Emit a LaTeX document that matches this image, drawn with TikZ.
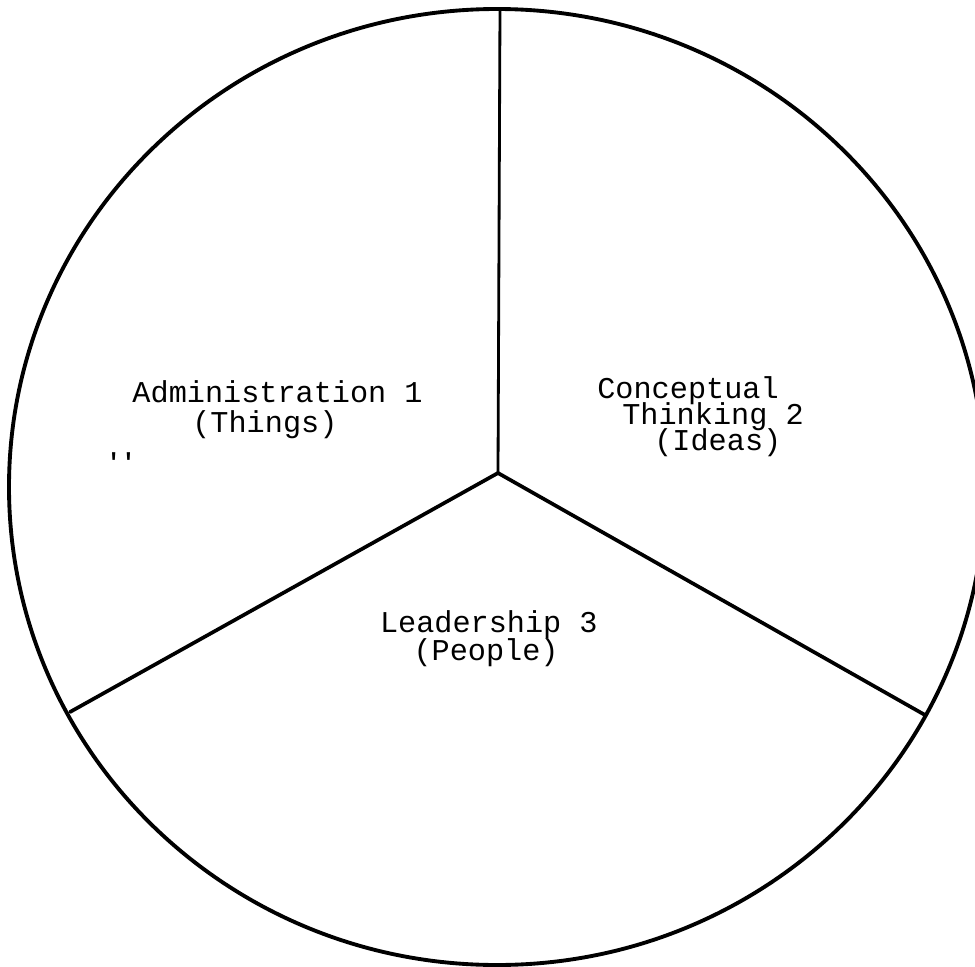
\documentclass[tikz,border=0pt]{standalone}
\usepackage{fontspec}
\setmonofont{Liberation Mono}

\begin{document}
\begin{tikzpicture}[x=0.02cm,y=-0.02cm,
    font=\ttfamily\fontsize{17.2}{20}\selectfont,
    spoke/.style={line width=2.1pt,line cap=round},
    secttext/.style={anchor=base west,inner sep=0pt},
    secttextr/.style={anchor=base east,inner sep=0pt}]
  \useasboundingbox (0,0) rectangle (975,967);
  \fill[white] (0,0) rectangle (975,967);
  % ---------------- rim of the wheel
  \draw[line width=2.2pt] (497,487) ellipse [x radius=488, y radius=478];
  % ---------------- spokes from the hub
  \coordinate (hub) at (498,473);
  \coordinate (rimT) at (500,9);
  \coordinate (rimL) at (70,712);
  \coordinate (rimR) at (925,715);
  \draw[line width=1.6pt] (hub) -- (rimT);
  \draw[spoke] (hub) -- (rimL);
  \draw[spoke] (hub) -- (rimR);
  % ---------------- sector 1
  \node[secttextr] (adm) at (423,402) {Administration 1};
  \node[secttext] (adm2) at (192,432) {(Things)};
  \node[secttext,font=\bfseries\ttfamily\fontsize{14}{14}\selectfont] (tick) at (106,470) {''};
  % ---------------- sector 2
  \node[secttext] (con) at (597,398) {Conceptual};
  \node[secttext] (con2) at (622,424) {Thinking 2};
  \node[secttext] (con3) at (654,450) {(Ideas)};
  % ---------------- sector 3
  \node[secttextr] (lea) at (598,632) {Leadership 3};
  \node[secttextr] (lea2) at (559,660) {(People)};
\end{tikzpicture}
\end{document}
